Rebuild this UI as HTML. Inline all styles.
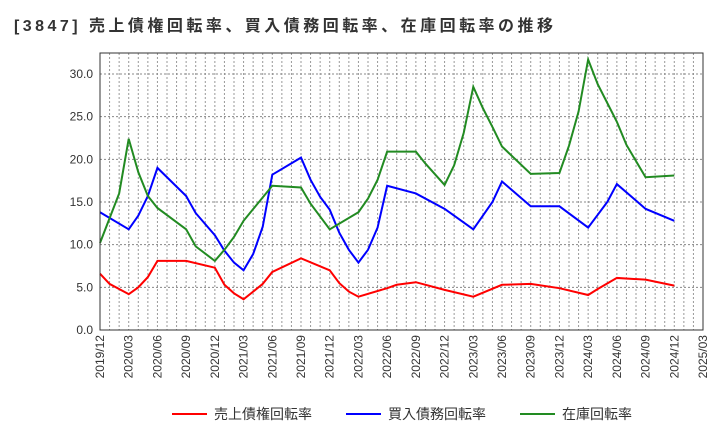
<!DOCTYPE html>
<html><head><meta charset="utf-8"><style>
body{margin:0;background:#fff;font-family:"Liberation Sans","Noto Sans CJK JP",sans-serif;}
</style></head><body>
<svg width="720" height="440" xmlns="http://www.w3.org/2000/svg" style="font-family:'Liberation Sans','Noto Sans CJK JP',sans-serif">
<text x="14" y="31" font-size="16" font-weight="bold" fill="#333" textLength="539" lengthAdjust="spacing">[3847]  売上債権回転率、買入債務回転率、在庫回転率の推移</text>
<g id="grid"></g>
<g id="axes"></g>
<g id="series"></g>
<rect x="100" y="53" width="603" height="277" fill="none" stroke="#333" stroke-width="1"/>
<g>
<line x1="172" y1="414" x2="207" y2="414" stroke="#f00" stroke-width="2"/>
<text x="214" y="419" font-size="14" fill="#333">売上債権回転率</text>
<line x1="346" y1="414" x2="381" y2="414" stroke="#00f" stroke-width="2"/>
<text x="388" y="419" font-size="14" fill="#333">買入債務回転率</text>
<line x1="520" y1="414" x2="555" y2="414" stroke="#228b22" stroke-width="2"/>
<text x="562" y="419" font-size="14" fill="#333">在庫回転率</text>
</g>
</svg>
<script>
const xTickLabels=["2019/12","2020/03","2020/06","2020/09","2020/12","2021/03","2021/06","2021/09","2021/12","2022/03","2022/06","2022/09","2022/12","2023/03","2023/06","2023/09","2023/12","2024/03","2024/06","2024/09","2024/12","2025/03"];
const yTicks=[0,5,10,15,20,25,30];
const redMonths=[0,1,3,4,5,6,9,12,13,14,15,16,17,18,21,24,25,26,27,30,31,33,36,39,42,45,48,51,52,54,57,60];
const redValues=[6.6,5.4,4.2,5.0,6.2,8.1,8.1,7.3,5.3,4.3,3.6,4.5,5.4,6.8,8.4,7.0,5.5,4.5,3.9,4.9,5.3,5.6,4.7,3.9,5.3,5.4,4.9,4.1,4.8,6.1,5.9,5.2];
const blueMonths=[0,3,4,5,6,9,10,12,13,14,15,16,17,18,21,22,23,24,25,26,27,28,29,30,33,36,39,40,41,42,45,48,51,52,53,54,57,60];
const blueValues=[13.8,11.8,13.4,15.7,19.0,15.7,13.7,11.1,9.3,7.9,7.0,8.9,12.1,18.2,20.2,17.6,15.6,14.1,11.4,9.4,7.9,9.4,12.0,16.9,16.0,14.2,11.8,13.4,15.0,17.4,14.5,14.5,12.0,13.5,15.0,17.1,14.2,12.8];
const greenMonths=[0,1,2,3,4,5,6,9,10,12,13,14,15,18,21,22,24,27,28,29,30,33,34,36,37,38,39,40,41,42,45,48,49,50,51,52,53,54,55,57,60];
const greenValues=[10.2,13.1,16.0,22.4,18.5,15.7,14.3,11.8,9.8,8.1,9.4,10.9,12.8,16.9,16.7,14.8,11.8,13.8,15.4,17.6,20.9,20.9,19.5,17.0,19.3,23.1,28.5,26.0,23.8,21.5,18.3,18.4,21.6,25.6,31.7,28.8,26.6,24.4,21.7,17.9,18.1];
const NS="http://www.w3.org/2000/svg";
const x0=100,x1=703,y0=330,yTop=53,totalMonths=63;
function xs(m){return x0+m*(x1-x0)/totalMonths;}
function ys(v){return y0-v*(y0-74)/30;}
const grid=document.getElementById('grid'),axes=document.getElementById('axes'),ser=document.getElementById('series');
for(let m=1;m<totalMonths;m++){
  const l=document.createElementNS(NS,'line');
  
  
  l.setAttribute('x1',xs(m));l.setAttribute('x2',xs(m));l.setAttribute('y1',yTop);l.setAttribute('y2',y0);
  l.setAttribute('stroke','#999');l.setAttribute('stroke-dasharray','2,2');l.setAttribute('stroke-width','1');
  grid.appendChild(l);
}
yTicks.forEach(v=>{
  if(v>0){const l=document.createElementNS(NS,'line');
  
  
  l.setAttribute('x1',x0);l.setAttribute('x2',x1);l.setAttribute('y1',ys(v));l.setAttribute('y2',ys(v));
  l.setAttribute('stroke','#888');l.setAttribute('stroke-dasharray','2,2');grid.appendChild(l);}
  const t=document.createElementNS(NS,'text');
  
  
  t.setAttribute('x',93);t.setAttribute('y',ys(v)+4);t.setAttribute('text-anchor','end');t.setAttribute('font-size','12');t.setAttribute('fill','#333');
  t.textContent=v.toFixed(1);axes.appendChild(t);
});
xTickLabels.forEach((s,i)=>{
  const x=xs(i*3);
  const t=document.createElementNS(NS,'text');
  
  
  t.setAttribute('transform','translate('+(x+4)+',335) rotate(-90)');t.setAttribute('text-anchor','end');t.setAttribute('font-size','12');t.setAttribute('fill','#333');
  t.textContent=s;axes.appendChild(t);
});
function drawLine(ms,vs,color,name){
  const p=document.createElementNS(NS,'polyline');
  
  
  p.setAttribute('points',ms.map((m,i)=>xs(m)+','+ys(vs[i])).join(' '));
  p.setAttribute('fill','none');p.setAttribute('stroke',color);p.setAttribute('stroke-width','2');
  ser.appendChild(p);
}
drawLine(redMonths,redValues,'#f00','receivables-turnover-line');
drawLine(blueMonths,blueValues,'#00f','payables-turnover-line');
drawLine(greenMonths,greenValues,'#228b22','inventory-turnover-line');
</script>
</body></html>
